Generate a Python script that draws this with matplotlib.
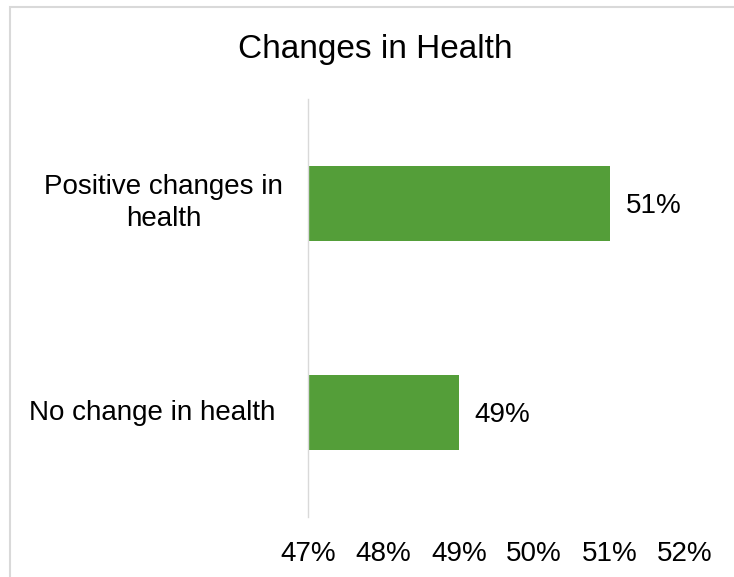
import matplotlib
matplotlib.use('Agg')
import matplotlib.pyplot as plt
from matplotlib.patches import Rectangle

# Chart data (bottom to top, as drawn)
categories = ['No change in health', 'Positive changes in\nhealth']
values     = [49.0, 51.0]
x_ticks    = [47, 48, 49, 50, 51, 52]
tick_labels = [f'{t}%' for t in x_ticks]
title = 'Changes in Health'

BAR_COLOR  = '#549E39'
AXIS_COLOR = '#D9D9D9'
TEXT_COLOR = '#000000'

plt.rcParams['font.family'] = ['Liberation Sans', 'DejaVu Sans']

W, H = 734, 577
fig = plt.figure(figsize=(W / 100, H / 100), dpi=100)

# plot area in pixel terms: x 308..685, y 99..517
ax = fig.add_axes([308 / W, (H - 517) / H, (685 - 308) / W, (517 - 99) / H])

y_pos = list(range(len(categories)))
ax.barh(y_pos, [v - x_ticks[0] for v in values], left=x_ticks[0],
        height=0.357, color=BAR_COLOR, zorder=2)

ax.set_xlim(x_ticks[0], x_ticks[-1])
ax.set_ylim(-0.5, len(categories) - 0.5)
ax.set_xticks(x_ticks)
ax.set_xticklabels(tick_labels, fontsize=20, color=TEXT_COLOR)
ax.tick_params(axis='x', length=0, pad=17)
ax.set_yticks([])

for side in ['top', 'right', 'bottom']:
    ax.spines[side].set_visible(False)
ax.spines['left'].set_color(AXIS_COLOR)
ax.spines['left'].set_linewidth(1.0)
ax.spines['left'].set_zorder(3)

# data labels
for y, v in zip(y_pos, values):
    ax.annotate(f'{v:.0f}%', xy=(v, y), xytext=(11.5, -2),
                textcoords='offset points', ha='left', va='center',
                fontsize=20, color=TEXT_COLOR)

# category labels, centred in the label area left of the axis
label_x = [-0.414, -0.383]
for y, cat, lx in zip(y_pos, categories, label_x):
    ax.text(lx, y, cat, transform=ax.get_yaxis_transform(),
            ha='center', va='center', multialignment='center',
            fontsize=20, color=TEXT_COLOR, linespacing=1.3)

fig.text(375 / W, (H - 57.7) / H, title, ha='center', va='baseline',
         fontsize=24, color=TEXT_COLOR)

# light chart border (Excel-style), running off the right/bottom edges
fig.add_artist(Rectangle((10 / W, -0.1), 1.2, (H - 7) / H + 0.1,
                         transform=fig.transFigure, fill=False,
                         edgecolor=AXIS_COLOR, linewidth=1.5))

fig.savefig('out.png', dpi=100)
